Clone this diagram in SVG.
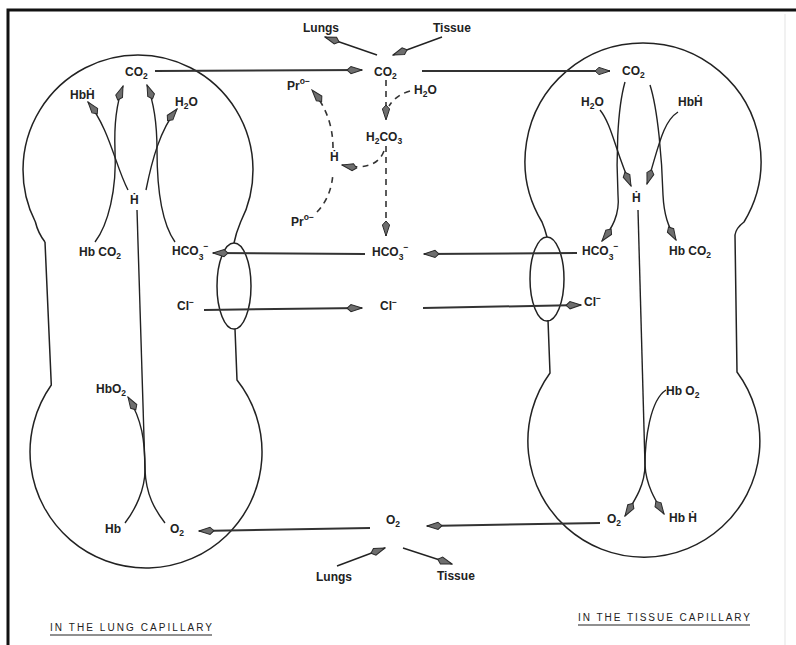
<svg xmlns="http://www.w3.org/2000/svg" width="796" height="645" viewBox="0 0 796 645">
<style>
  text { font-family: "Liberation Sans", "DejaVu Sans", Arial, sans-serif; font-size: 12px; font-weight: bold; fill: #222; }
  .sub { font-size: 8.5px; }
  .title { font-size: 10px; font-weight: normal; }
  .cell { fill: none; stroke: #222; stroke-width: 1.5; }
  .conn { fill: none; stroke: #333; stroke-width: 2; }
  .thin { fill: none; stroke: #222; stroke-width: 1.4; }
  .dash { fill: none; stroke: #333; stroke-width: 1.6; stroke-dasharray: 6 5; }
</style>
<defs>
  <marker id="ah" markerUnits="userSpaceOnUse" viewBox="-16 -5 17 10" refX="0" refY="0" markerWidth="17" markerHeight="10" orient="auto">
    <path d="M0,0 L-11,-3.6 L-15,0 L-11,3.6 Z" fill="#6e6e6e" stroke="#2a2a2a" stroke-width="1"/>
  </marker>
</defs>
<rect x="0" y="0" width="796" height="645" fill="#fff"/>
<path d="M8,645 L8,10 L796,10" fill="none" stroke="#111" stroke-width="3"/>
<line x1="785" y1="14" x2="785" y2="645" stroke="#ececec" stroke-width="1.5"/>

<g id="lung-cell">
  <path class="cell" d="M45,242 Q38,233 35.4,222 A115 115 0 1 1 240.6,222 Q236,233 234,243"/>
  <ellipse class="cell" cx="234" cy="286" rx="17" ry="43"/>
  <path class="cell" d="M235,329 L237,380 A116 116 0 1 1 51.3,385 L45,242"/>
</g>
<g id="tissue-cell">
  <path class="cell" d="M547,237 Q545,229 542,222 A118 118 0 1 1 744,222 Q736,228 735,235 L737,372 A116 116 0 1 1 550,373 L548,320"/>
  <ellipse class="cell" cx="547" cy="279" rx="17" ry="42"/>
</g>

<g id="connectors">
  <path class="conn" d="M155,71 L362,70" marker-end="url(#ah)"/>
  <path class="conn" d="M422,71 L610,71" marker-end="url(#ah)"/>
  <path class="thin" d="M377,55 L325,37" marker-end="url(#ah)"/>
  <path class="thin" d="M442,37 L393,55" marker-end="url(#ah)"/>
  <path class="dash" d="M386,80 L386,120" marker-end="url(#ah)"/>
  <path class="dash" d="M410,91 Q396,95 389,106"/>
  <path class="dash" d="M386,146 L386,236" marker-end="url(#ah)"/>
  <path class="dash" d="M384,151 Q376,172 342,165" marker-end="url(#ah)"/>
  <path class="dash" d="M317,212 Q332,196 333,172"/>
  <path class="dash" d="M333,148 Q333,115 312,90" marker-end="url(#ah)"/>
  <path class="conn" d="M365,254 L213,253" marker-end="url(#ah)"/>
  <path class="conn" d="M577,253 L424,254" marker-end="url(#ah)"/>
  <path class="conn" d="M204,310 L362,308" marker-end="url(#ah)"/>
  <path class="conn" d="M423,308 L581,305" marker-end="url(#ah)"/>
  <path class="conn" d="M370,528 L199,531" marker-end="url(#ah)"/>
  <path class="conn" d="M600,523 L427,526" marker-end="url(#ah)"/>
  <path class="thin" d="M337,566 L385,548" marker-end="url(#ah)"/>
  <path class="thin" d="M403,548 L452,564" marker-end="url(#ah)"/>
  <path class="thin" d="M95,242 C108,225 117,190 115,150 C114,125 117,102 123,86" marker-end="url(#ah)"/>
  <path class="thin" d="M128,190 C115,165 110,130 88,102" marker-end="url(#ah)"/>
  <path class="thin" d="M175,242 C163,225 157,195 157,150 C157,120 153,100 147,85" marker-end="url(#ah)"/>
  <path class="thin" d="M146,190 C152,160 160,130 177,109" marker-end="url(#ah)"/>
  <path class="thin" d="M137,210 L145,470"/>
  <path class="thin" d="M125,523 C135,510 145,490 145,470 C145,440 142,420 128,397" marker-end="url(#ah)"/>
  <path class="thin" d="M165,523 C155,510 146,495 145,470"/>
  <path class="thin" d="M625,82 C617,110 616,160 618,195 C620,215 612,228 602,241" marker-end="url(#ah)"/>
  <path class="thin" d="M600,110 C612,125 615,150 631,186" marker-end="url(#ah)"/>
  <path class="thin" d="M650,85 C658,110 662,160 663,195 C664,215 668,226 676,240" marker-end="url(#ah)"/>
  <path class="thin" d="M678,112 C662,122 658,150 647,184" marker-end="url(#ah)"/>
  <path class="thin" d="M638,210 L645,465"/>
  <path class="thin" d="M666,390 C650,400 645,440 645,465 C645,485 635,500 625,516" marker-end="url(#ah)"/>
  <path class="thin" d="M645,465 C646,485 655,500 664,514" marker-end="url(#ah)"/>
</g>

<g id="lung-labels">
  <text x="125" y="76">CO<tspan class="sub" dy="3">2</tspan></text>
  <text x="70" y="99">HbḢ</text>
  <text x="175" y="106">H<tspan class="sub" dy="3">2</tspan><tspan dy="-3">O</tspan></text>
  <text x="130" y="204">Ḣ</text>
  <text x="79" y="256">Hb CO<tspan class="sub" dy="3">2</tspan></text>
  <text x="172" y="255">HCO<tspan class="sub" dy="5">3</tspan><tspan class="sub" dy="-11">−</tspan></text>
  <text x="177" y="310">Cl<tspan class="sub" dy="-5">−</tspan></text>
  <text x="96" y="393">HbO<tspan class="sub" dy="3">2</tspan></text>
  <text x="105" y="533">Hb</text>
  <text x="170" y="533">O<tspan class="sub" dy="3">2</tspan></text>
</g>
<g id="plasma-labels">
  <text x="303" y="32">Lungs</text>
  <text x="433" y="32">Tissue</text>
  <text x="374" y="76">CO<tspan class="sub" dy="3">2</tspan></text>
  <text x="414" y="94">H<tspan class="sub" dy="3">2</tspan><tspan dy="-3">O</tspan></text>
  <text x="366" y="141">H<tspan class="sub" dy="3">2</tspan><tspan dy="-3">CO</tspan><tspan class="sub" dy="3">3</tspan></text>
  <text x="330" y="161">Ḣ</text>
  <text x="287" y="90">Pr<tspan class="sub" dy="-6">o−</tspan></text>
  <text x="291" y="226">Pr<tspan class="sub" dy="-6">o−</tspan></text>
  <text x="372" y="256">HCO<tspan class="sub" dy="4">3</tspan><tspan class="sub" dy="-10">−</tspan></text>
  <text x="380" y="310">Cl<tspan class="sub" dy="-5">−</tspan></text>
  <text x="386" y="524">O<tspan class="sub" dy="3">2</tspan></text>
  <text x="316" y="581">Lungs</text>
  <text x="437" y="580">Tissue</text>
</g>
<g id="tissue-labels">
  <text x="622" y="75">CO<tspan class="sub" dy="3">2</tspan></text>
  <text x="581" y="106">H<tspan class="sub" dy="3">2</tspan><tspan dy="-3">O</tspan></text>
  <text x="678" y="106">HbḢ</text>
  <text x="632" y="202">Ḣ</text>
  <text x="582" y="255">HCO<tspan class="sub" dy="5">3</tspan><tspan class="sub" dy="-11">−</tspan></text>
  <text x="669" y="255">Hb CO<tspan class="sub" dy="3">2</tspan></text>
  <text x="584" y="306">Cl<tspan class="sub" dy="-5">−</tspan></text>
  <text x="666" y="395">Hb O<tspan class="sub" dy="3">2</tspan></text>
  <text x="607" y="523">O<tspan class="sub" dy="3">2</tspan></text>
  <text x="669" y="522">Hb Ḣ</text>
</g>
<g id="titles">
  <text class="title" x="50" y="631" textLength="162" lengthAdjust="spacing">IN THE LUNG CAPILLARY</text>
  <line x1="50" y1="635" x2="212" y2="635" stroke="#222" stroke-width="1.2"/>
  <text class="title" x="578" y="621" textLength="172" lengthAdjust="spacing">IN THE TISSUE CAPILLARY</text>
  <line x1="578" y1="625" x2="750" y2="625" stroke="#222" stroke-width="1.2"/>
</g>
</svg>
